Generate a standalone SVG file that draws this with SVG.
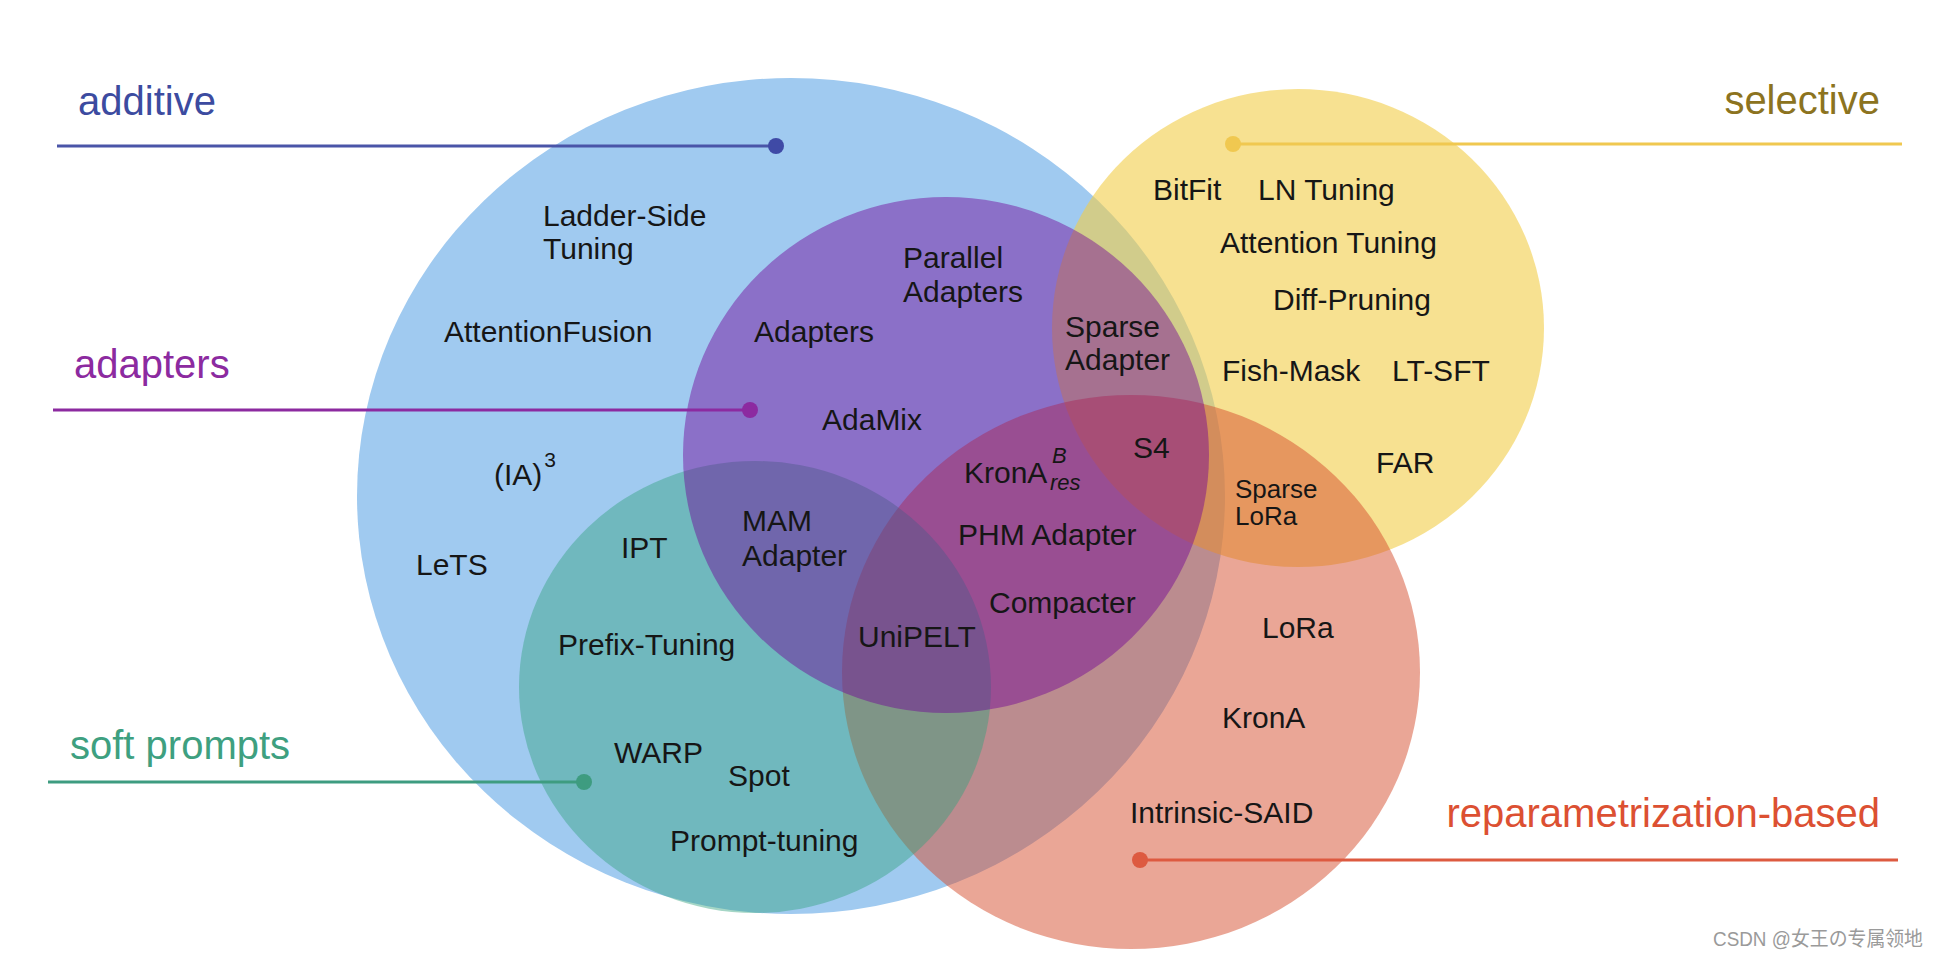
<svg xmlns="http://www.w3.org/2000/svg" width="1940" height="962" viewBox="0 0 1940 962">
<style>
.m{font-family:"Liberation Sans",Arial,sans-serif;font-size:30px;fill:#161616}
.s{font-size:26px}
.c{font-family:"Liberation Sans",Arial,sans-serif;font-size:40px}
.i{font-style:italic;font-size:22px}
.wm{font-family:"Liberation Sans","Noto Sans CJK SC",sans-serif;font-size:20px;fill:#9a9a9a}
</style>
<rect width="1940" height="962" fill="#ffffff"/>
<g id="sets">
  <g id="set-additive"><ellipse cx="791" cy="496" rx="434" ry="418" fill="#a0caf0"/></g>
  <g id="set-selective"><ellipse cx="1298" cy="328" rx="246" ry="239" fill="rgb(242,205,72)" fill-opacity="0.6"/></g>
  <g id="set-reparametrization"><ellipse cx="1131" cy="672" rx="289" ry="277" fill="rgb(213,77,45)" fill-opacity="0.5"/></g>
  <g id="set-softprompts"><ellipse cx="755" cy="687" rx="236" ry="226" fill="rgb(51,161,126)" fill-opacity="0.44"/></g>
  <g id="set-adapters"><ellipse cx="946" cy="455" rx="263" ry="258" fill="rgb(113,2,151)" fill-opacity="0.45"/></g>
</g>
<g id="connectors" stroke-width="3">
  <line x1="57" y1="146" x2="776" y2="146" stroke="#4a55a8"/>
  <circle cx="776" cy="146" r="8" fill="#3f4aa6"/>
  <line x1="53" y1="410" x2="750" y2="410" stroke="#8c2aa0"/>
  <circle cx="750" cy="410" r="8" fill="#8c2aa0"/>
  <line x1="48" y1="782" x2="584" y2="782" stroke="#3e9c80"/>
  <circle cx="584" cy="782" r="8" fill="#3e9c80"/>
  <line x1="1233" y1="144" x2="1902" y2="144" stroke="#f0c850"/>
  <circle cx="1233" cy="144" r="8" fill="#f0c850"/>
  <line x1="1140" y1="860" x2="1898" y2="860" stroke="#dd5a40"/>
  <circle cx="1140" cy="860" r="8" fill="#dd5a40"/>
</g>
<g id="category-labels">
  <text id="lbl-additive" class="c" x="78" y="115" fill="#3c4ba0">additive</text>
  <text id="lbl-adapters" class="c" x="74" y="378" fill="#8c2aa0">adapters</text>
  <text id="lbl-softprompts" class="c" x="70" y="759" fill="#3ea080">soft prompts</text>
  <text id="lbl-selective" class="c" x="1880" y="114" text-anchor="end" fill="#8c7320">selective</text>
  <text id="lbl-reparam" class="c" x="1880" y="827" text-anchor="end" fill="#dc5032">reparametrization-based</text>
</g>
<g id="methods">
  <g id="n-ladder"><text class="m" x="543" y="226">Ladder-Side</text><text class="m" x="543" y="259">Tuning</text></g>
  <g id="n-attnfusion"><text class="m" x="444" y="342">AttentionFusion</text></g>
  <g id="n-adapters"><text class="m" x="754" y="342">Adapters</text></g>
  <g id="n-parallel"><text class="m" x="903" y="268">Parallel</text><text class="m" x="903" y="302">Adapters</text></g>
  <g id="n-adamix"><text class="m" x="822" y="430">AdaMix</text></g>
  <g id="n-ia3"><text class="m" x="494" y="485">(IA)<tspan font-size="21" dx="2" dy="-18">3</tspan></text></g>
  <g id="n-sparseadapter"><text class="m" x="1065" y="337">Sparse</text><text class="m" x="1065" y="370">Adapter</text></g>
  <g id="n-s4"><text class="m" x="1133" y="458">S4</text></g>
  <g id="n-kronab"><text class="m" x="964" y="483">KronA</text><text class="m i" x="1052" y="463">B</text><text class="m i" x="1050" y="490">res</text></g>
  <g id="n-phm"><text class="m" x="958" y="545">PHM Adapter</text></g>
  <g id="n-compacter"><text class="m" x="989" y="613">Compacter</text></g>
  <g id="n-unipelt"><text class="m" x="858" y="647">UniPELT</text></g>
  <g id="n-mam"><text class="m" x="742" y="531">MAM</text><text class="m" x="742" y="566">Adapter</text></g>
  <g id="n-ipt"><text class="m" x="621" y="558">IPT</text></g>
  <g id="n-lets"><text class="m" x="416" y="575">LeTS</text></g>
  <g id="n-prefix"><text class="m" x="558" y="655">Prefix-Tuning</text></g>
  <g id="n-warp"><text class="m" x="614" y="763">WARP</text></g>
  <g id="n-spot"><text class="m" x="728" y="786">Spot</text></g>
  <g id="n-prompt"><text class="m" x="670" y="851">Prompt-tuning</text></g>
  <g id="n-bitfit"><text class="m" x="1153" y="200">BitFit</text></g>
  <g id="n-ln"><text class="m" x="1258" y="200">LN Tuning</text></g>
  <g id="n-attntuning"><text class="m" x="1220" y="253">Attention Tuning</text></g>
  <g id="n-diff"><text class="m" x="1273" y="310">Diff-Pruning</text></g>
  <g id="n-fish"><text class="m" x="1222" y="381">Fish-Mask</text></g>
  <g id="n-ltsft"><text class="m" x="1392" y="381">LT-SFT</text></g>
  <g id="n-far"><text class="m" x="1376" y="473">FAR</text></g>
  <g id="n-sparselora"><text class="m s" x="1235" y="498">Sparse</text><text class="m s" x="1235" y="525">LoRa</text></g>
  <g id="n-lora"><text class="m" x="1262" y="638">LoRa</text></g>
  <g id="n-krona"><text class="m" x="1222" y="728">KronA</text></g>
  <g id="n-said"><text class="m" x="1130" y="823">Intrinsic-SAID</text></g>
</g>
<text class="wm" x="1713" y="946" textLength="210" lengthAdjust="spacingAndGlyphs">CSDN @女王の专属领地</text>
</svg>
